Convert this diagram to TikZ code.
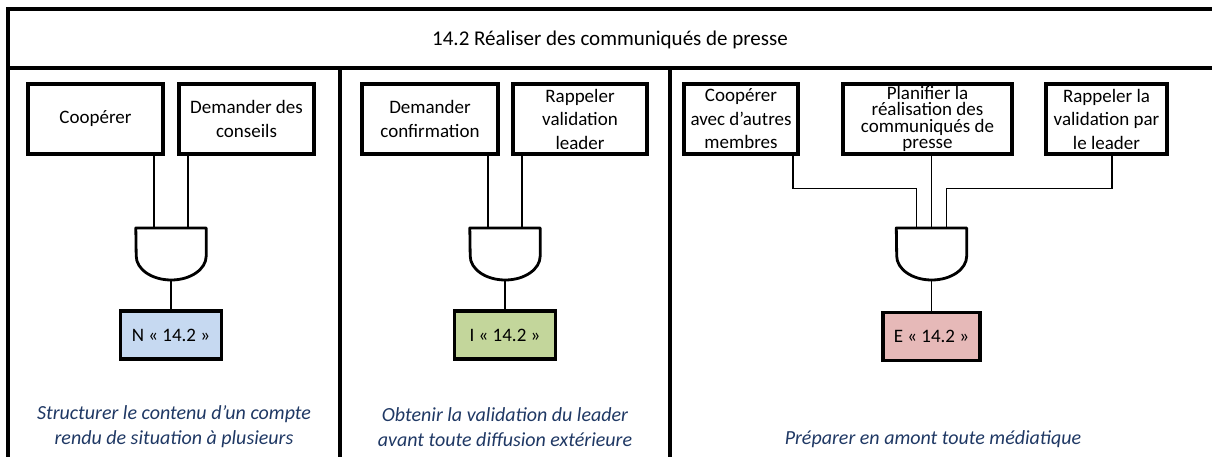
\documentclass[tikz,border=0pt]{standalone}
\usepackage{fontspec}
\setmainfont{Carlito}
\definecolor{FrameBlack}{HTML}{000000}
\definecolor{LevelN}{HTML}{C6D9F1}
\definecolor{LevelI}{HTML}{C3D69B}
\definecolor{LevelE}{HTML}{E6B9B8}
\definecolor{GoalBlue}{HTML}{1F3864}
\usetikzlibrary{calc}
\tikzset{
    % Frame of the table
    frame line/.style={
        line width=3.4pt,
        FrameBlack
    },
    % Task boxes with sharp corners
    task/.style={
        rectangle,
        draw=FrameBlack,
        fill=white,
        line width=3.2pt,
        minimum height=70pt,
        inner sep=0pt,
        align=center,
        font=\fontsize{19}{23.5}\selectfont
    },
    level/.style={
        rectangle,
        draw=FrameBlack,
        line width=3.2pt,
        minimum width=101pt,
        minimum height=48pt,
        font=\fontsize{19}{23}\selectfont
    },
    gate box/.style={
        rectangle,
        minimum width=70pt,
        minimum height=52pt,
        inner sep=0pt,
        anchor=north
    },
    gate line/.style={
        line width=2.8pt,
        fill=white,
        line join=round
    },
    wire/.style={
        line width=1.5pt,
        FrameBlack
    },
    goal/.style={
        align=center,
        text=GoalBlue,
        font=\fontsize{20}{25}\selectfont\itshape
    }
}
% AND gate pointing down: name, top centre
\newcommand{\andgate}[2]{%
    \node[gate box] (#1) at (#2) {};
    \draw[gate line] (#1.north west) -- (#1.north east) -- ++(0,-28)
        arc[start angle=0, end angle=-180, x radius=35, y radius=24] -- cycle;
}

\begin{document}
\begin{tikzpicture}[x=1pt, y=1pt]
        \useasboundingbox (0,0) rectangle (1212,-457);

        % Table frame
        \draw[frame line] (1212,-9) -- (8,-9) -- (8,-457);
        \draw[frame line] (8,-68) -- (1212,-68);
        \draw[frame line] (340,-68) -- (340,-457);
        \draw[frame line] (670,-68) -- (670,-457);

        % Title
        \node[font=\fontsize{21}{25}\selectfont] (title) at (610,-40) {14.2 Réaliser des communiqués de presse};

        % Column N
        \node[task, minimum width=135pt] (coop) at (95.5,-119) {Coopérer};
        \node[task, minimum width=135pt] (conseils) at (246.5,-119) {Demander des\\conseils};
        \andgate{gateN}{171,-228}
        \node[level, fill=LevelN] (levelN) at (171,-335) {N « 14.2 »};
        \draw[wire] ([xshift=-17pt]gateN.north) -- ([xshift=-17pt]gateN.north |- coop.south);
        \draw[wire] ([xshift=17pt]gateN.north) -- ([xshift=17pt]gateN.north |- conseils.south);
        \draw[wire] (gateN.south) -- (levelN.north);
        \node[goal] (goalN) at (174,-427) {Structurer le contenu d’un compte\\rendu de situation à plusieurs};

        % Column I
        \node[task, minimum width=136pt] (confirm) at (430,-119) {Demander\\confirmation};
        \node[task, minimum width=134pt] (rappel) at (580,-119) {Rappeler\\validation\\leader};
        \andgate{gateI}{505,-228}
        \node[level, fill=LevelI] (levelI) at (505,-335) {I « 14.2 »};
        \draw[wire] ([xshift=-17pt]gateI.north) -- ([xshift=-17pt]gateI.north |- confirm.south);
        \draw[wire] ([xshift=17pt]gateI.north) -- ([xshift=17pt]gateI.north |- rappel.south);
        \draw[wire] (gateI.south) -- (levelI.north);
        \node[goal] (goalI) at (505,-427) {Obtenir la validation du leader\\avant toute diffusion extérieure};

        % Column E
        \node[task, minimum width=114pt] (membres) at (741,-119) {Coopérer\\avec d’autres\\membres};
        \node[task, minimum width=169pt, font=\fontsize{19}{16.2}\selectfont] (planifier) at (927.5,-119) {Planifier la\\réalisation des\\communiqués de\\presse};
        \node[task, minimum width=121pt] (leader) at (1106.5,-119) {Rappeler la\\validation par\\le leader};
        \andgate{gateE}{931.5,-228}
        \node[level, fill=LevelE, minimum width=97pt] (levelE) at (931.5,-336.5) {E « 14.2 »};
        \draw[wire] ([xshift=52pt]membres.south) -- ++(0,-33) -| ([xshift=-15pt]gateE.north);
        \draw[wire] (gateE.north |- planifier.south) -- (gateE.north);
        \draw[wire] ([xshift=5.5pt]leader.south) -- ++(0,-33) -| ([xshift=15pt]gateE.north);
        \draw[wire] (gateE.south) -- (levelE.north);
        \node[goal] (goalE) at (933,-439) {Préparer en amont toute médiatique};
    \end{tikzpicture}
\end{document}
